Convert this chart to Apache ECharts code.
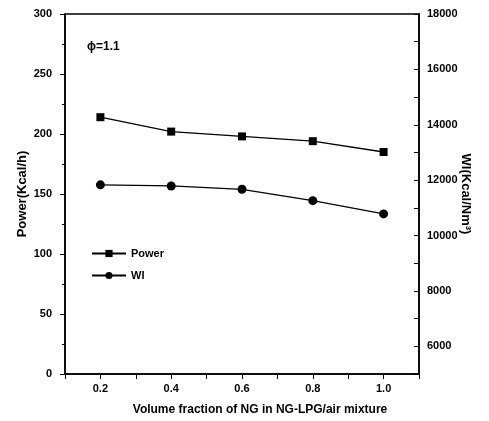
<!DOCTYPE html>
<html>
<head>
<meta charset="utf-8">
<script src="https://cdn.jsdelivr.net/npm/echarts@6/dist/echarts.min.js"></script>
<style>html,body{margin:0;padding:0;background:#fff}#c{width:489px;height:421px}</style>
</head>
<body>
<div id="c"></div>
<script>
const xValues = [0.2, 0.4, 0.6, 0.8, 1.0];
const powerValues = [214, 202, 198, 194, 185];
const wiValues = [11830, 11790, 11670, 11260, 10780];
const seriesNames = ['Power', 'WI'];
const xTitle = 'Volume fraction of NG in NG-LPG/air mixture';
const leftTitle = 'Power(Kcal/h)';
const rightTitle = 'WI(Kcal/Nm³)';
const annotation = 'ϕ=1.1';

const font = 'Liberation Sans, Arial, sans-serif';
const chart = echarts.init(document.getElementById('c'), null, {renderer: 'canvas'});
const lab = {color: '#000', fontFamily: font, fontWeight: 'bold', fontSize: 11};
chart.setOption({
  animation: false,
  backgroundColor: '#fff',
  title: {text: annotation, left: 82, top: 36, textStyle: {color: '#000', fontFamily: font, fontWeight: 'bold', fontSize: 12}},
  legend: {
    orient: 'vertical', left: 86, top: 243, itemWidth: 34, itemHeight: 9, itemGap: 11,
    textStyle: {color: '#000', fontFamily: font, fontWeight: 'bold', fontSize: 11},
    data: seriesNames
  },
  grid: {left: 65, right: 70, top: 14, bottom: 47, show: true, borderColor: '#000', borderWidth: 1.5},
  xAxis: {
    type: 'value', min: 0.1, max: 1.1, interval: 0.1,
    name: xTitle, nameLocation: 'middle', nameGap: 30, nameMoveOverlap: false,
    nameTextStyle: {color: '#000', fontFamily: font, fontWeight: 'bold', fontSize: 12, padding: [0, 0, 0, 36]},
    axisLine: {lineStyle: {color: '#000', width: 1.5}},
    axisTick: {inside: false, length: 5, lineStyle: {color: '#000'}},
    axisLabel: Object.assign({margin: 9, formatter: v => (Math.round(v * 10) % 2 === 0 ? v.toFixed(1) : '')}, lab),
    splitLine: {show: false}
  },
  yAxis: [{
    type: 'value', min: 0, max: 300, interval: 50, position: 'left',
    name: leftTitle, nameLocation: 'middle', nameGap: 36, nameRotate: 90, nameMoveOverlap: false,
    nameTextStyle: {color: '#000', fontFamily: font, fontWeight: 'bold', fontSize: 13},
    axisLine: {show: true, lineStyle: {color: '#000', width: 1.5}},
    axisTick: {length: 5, lineStyle: {color: '#000'}},
    minorTick: {show: true, splitNumber: 2, length: 3, lineStyle: {color: '#000'}},
    axisLabel: Object.assign({margin: 13}, lab),
    splitLine: {show: false}, minorSplitLine: {show: false}
  }, {
    type: 'value', min: 5000, max: 18000, interval: 1000, position: 'right',
    name: rightTitle, nameLocation: 'middle', nameGap: 40, nameRotate: -90, nameMoveOverlap: false,
    nameTextStyle: {color: '#000', fontFamily: font, fontWeight: 'bold', fontSize: 13},
    axisLine: {show: true, lineStyle: {color: '#000', width: 1.5}},
    axisTick: {inside: true, length: 5, lineStyle: {color: '#000'}},
    axisLabel: Object.assign({margin: 8, formatter: v => (v % 2000 === 0 ? String(v) : '')}, lab),
    splitLine: {show: false}
  }],
  series: [{
    name: seriesNames[0], type: 'line', yAxisIndex: 0,
    data: xValues.map((x, i) => [x, powerValues[i]]),
    symbol: 'rect', symbolSize: 8,
    lineStyle: {color: '#000', width: 1.3}, itemStyle: {color: '#000'}
  }, {
    name: seriesNames[1], type: 'line', yAxisIndex: 1,
    data: xValues.map((x, i) => [x, wiValues[i]]),
    symbol: 'circle', symbolSize: 9,
    lineStyle: {color: '#000', width: 1.3}, itemStyle: {color: '#000'}
  }]
});
</script>
</body>
</html>
